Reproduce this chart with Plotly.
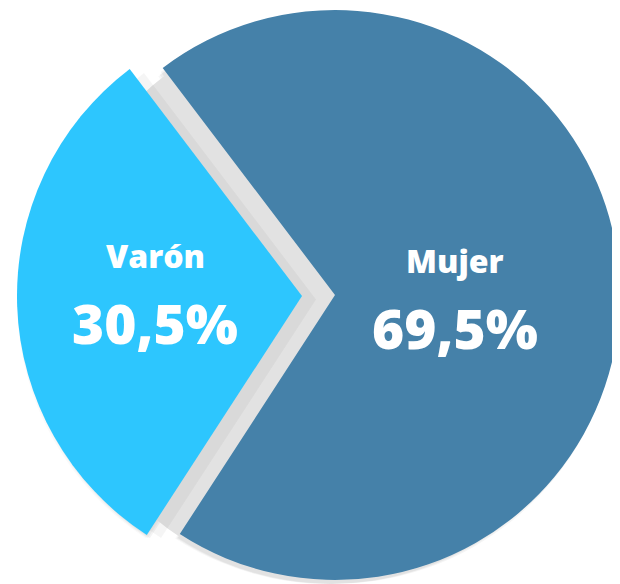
import plotly.graph_objects as go

# ---- data ----
labels = ["Varón", "Mujer"]
values = [30.5, 69.5]
colors = ["#2DC6FE", "#4581A9"]

W, H = 612, 576
OFF = 8          # default body margin of the page shifts the figure by 8px
R = 285
# window-pixel centres of each (exploded) slice's pie
centers = {"Varón": (302, 296), "Mujer": (335, 295)}
ROT = 213

def domain(cx, cy, r):
    cx, cy = cx - OFF, cy - OFF
    x0, x1 = (cx - r) / W, (cx + r) / W
    y0, y1 = (H - cy - r) / H, (H - cy + r) / H
    return dict(x=[max(0, x0), min(1, x1)], y=[max(0, y0), min(1, y1)])

def slice_trace(show_label, fill, cx, cy, r):
    cols = [fill if l == show_label else "rgba(0,0,0,0)" for l in labels]
    return go.Pie(
        labels=labels, values=values, sort=False, direction="clockwise",
        rotation=ROT, marker=dict(colors=cols, line=dict(width=0)),
        textinfo="none", hoverinfo="skip", showlegend=False,
        domain=domain(cx, cy, r),
    )

fig = go.Figure()

vx, vy = centers["Varón"]
mx, my = centers["Mujer"]
# soft outer shadows
for dx, dy, rr, a in [(-2, 10, 288, 0.025), (0, 9, 287, 0.035), (2, 7, 285, 0.045)]:
    fig.add_trace(slice_trace("Varón", f"rgba(0,0,0,{a})", vx + dx, vy + dy, rr))
for dx, dy, rr, a in [(-6, 9, 285, 0.03), (-4, 7, 285, 0.04), (-2, 4, 285, 0.045)]:
    fig.add_trace(slice_trace("Mujer", f"rgba(0,0,0,{a})", mx + dx, my + dy, rr))
# gap shadow of the exploded slice
fig.add_trace(slice_trace("Varón", "rgb(226,226,226)", vx + 34, vy + 6, 284))
fig.add_trace(slice_trace("Varón", "rgba(0,0,0,0.04)", vx + 14, vy + 4, 285))

# main slices
fig.add_trace(slice_trace("Mujer", colors[1], mx, my, R))
fig.add_trace(slice_trace("Varón", colors[0], vx, vy, R))

# labels (window pixel positions)
text_pos = {"Varón": (155, 255, 322), "Mujer": (455, 260, 327)}
font = "Open Sans"
annotations = []
for lab, val in zip(labels, values):
    px, py1, py2 = text_pos[lab]
    annotations.append(dict(
        x=(px - OFF) / W, y=1 - (py1 - OFF) / H, xref="paper", yref="paper",
        showarrow=False, text=lab, xanchor="center", yanchor="middle",
        font=dict(family=font, size=32, color="white", weight=800),
    ))
    annotations.append(dict(
        x=(px - OFF) / W, y=1 - (py2 - OFF) / H, xref="paper", yref="paper",
        showarrow=False, text=f"{val:.1f}%".replace(".", ","),
        xanchor="center", yanchor="middle",
        font=dict(family=font, size=55, color="white", weight=800),
    ))

fig.update_layout(
    width=W, height=H, margin=dict(l=0, r=0, t=0, b=0),
    paper_bgcolor="white", plot_bgcolor="white",
    annotations=annotations, showlegend=False,
)

fig.write_html("out.html")
